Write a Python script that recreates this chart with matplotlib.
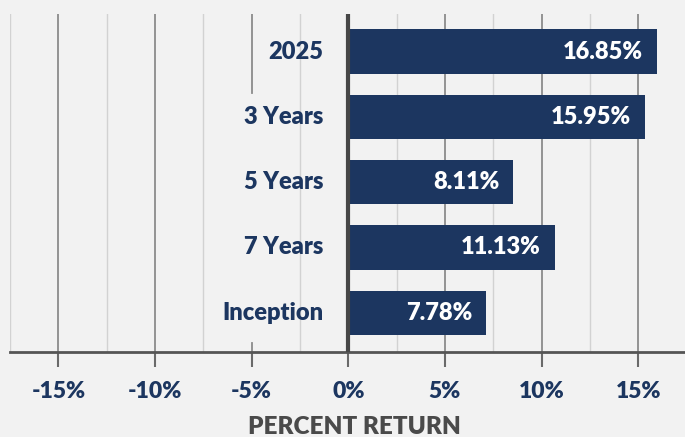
import matplotlib
matplotlib.use('Agg')
from matplotlib import pyplot as plt

# data
categories = ['2025', '3 Years', '5 Years', '7 Years', 'Inception']
bar_values = [15.95, 15.35, 8.54, 10.69, 7.12]      # bar length as drawn (%)
value_labels = ['16.85%', '15.95%', '8.11%', '11.13%', '7.78%']
major_ticks = [-15, -10, -5, 0, 5, 10, 15]
tick_labels = ['-15%', '-10%', '-5%', '0%', '5%', '10%', '15%']
minor_ticks = [-17.5, -12.5, -7.5, -2.5, 2.5, 7.5, 12.5]

navy = '#1c3660'
bg = '#f2f2f2'
plt.rcParams['font.family'] = ['Lato', 'DejaVu Sans']

fig = plt.figure(figsize=(6.85, 4.37), dpi=100, facecolor=bg)
W, H = 685, 437
# axes box in pixels: left 10, right 685, top 14, bottom 352
ax = fig.add_axes([10 / W, (H - 352) / H, 675 / W, 338 / H])
ax.set_facecolor(bg)
ax.set_xlim(-17.5, 17.42)
ax.set_ylim(4.6, -0.575)

# gridlines
for x in minor_ticks:
    ax.axvline(x, color='#d2d2d2', lw=1.0, zorder=0)
for x in major_ticks:
    if x == 0:
        continue
    if x == -5:
        # partly hidden behind the labels in the original
        ax.axvline(x, ymin=0.766, ymax=1, color='#8c8c8c', lw=1.3, zorder=0)
        ax.axvline(x, ymin=0, ymax=0.027, color='#8c8c8c', lw=1.3, zorder=0)
    else:
        ax.axvline(x, color='#8c8c8c', lw=1.3, zorder=0)

ypos = list(range(len(categories)))
ax.barh(ypos, bar_values, height=0.68, color=navy, zorder=2)
ax.axvline(0, color='#474747', lw=3, zorder=3)

for y, v, lab in zip(ypos, bar_values, value_labels):
    ax.annotate(lab, (v, y), xytext=(-10, 0), textcoords='offset points',
                ha='right', va='center', color='white', fontsize=17,
                fontweight='heavy', zorder=4)
    ax.annotate(categories[y], (0, y), xytext=(-18, 0), textcoords='offset points',
                ha='right', va='center', color=navy, fontsize=17,
                fontweight='heavy', zorder=4)

for s in ['top', 'right', 'left']:
    ax.spines[s].set_visible(False)
ax.spines['bottom'].set_color('#555555')
ax.spines['bottom'].set_linewidth(2)
ax.set_yticks([])
ax.set_xticks(major_ticks)
ax.set_xticklabels(tick_labels)
ax.tick_params(axis='x', length=11, width=1.5, color='#6a6a6a', pad=10,
               labelsize=16.5, labelcolor=navy)
for t in ax.get_xticklabels():
    t.set_fontweight('heavy')

fig.text(354 / W, (H - 427) / H, 'PERCENT RETURN', ha='center', va='center',
         fontsize=17.5, fontweight='heavy', color='#4a4a4a')

fig.savefig('out.png', dpi=100, facecolor=bg)
